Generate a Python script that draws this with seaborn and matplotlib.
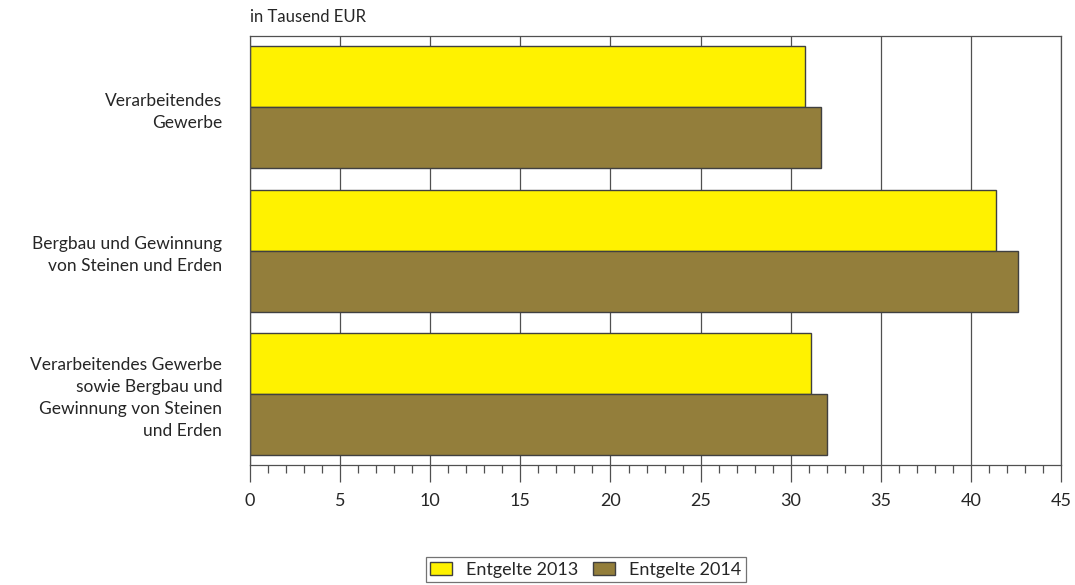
import pandas as pd
import matplotlib.pyplot as plt
import seaborn as sns
from matplotlib.ticker import MultipleLocator

# Daten (in Tausend EUR)
bereiche = [
    'Verarbeitendes\nGewerbe',
    'Bergbau und Gewinnung\nvon Steinen und Erden',
    'Verarbeitendes Gewerbe\nsowie Bergbau und\nGewinnung von Steinen\nund Erden',
]
entgelte_2013 = [30.8, 41.4, 31.1]
entgelte_2014 = [31.7, 42.6, 32.0]
serien = ['Entgelte 2013', 'Entgelte 2014']

df = pd.DataFrame({
    'Bereich': bereiche * 2,
    'Serie': [serien[0]] * 3 + [serien[1]] * 3,
    'Wert': entgelte_2013 + entgelte_2014,
})

sns.set_theme(style="white")
plt.rcParams['font.family'] = ['Lato', 'DejaVu Sans']

fig = plt.figure(figsize=(10.75, 5.85), dpi=100)
ax = fig.add_axes([0.2326, 0.205, 0.9870 - 0.2326, 0.9385 - 0.205])

sns.barplot(
    data=df, x='Wert', y='Bereich', hue='Serie', orient='h',
    palette=['#FFF200', '#937E3B'], saturation=1, width=0.853, gap=0,
    edgecolor='#404040', linewidth=1, ax=ax, legend=True,
)

ax.set_xlim(0, 45)
ax.set_ylim(2.5, -0.5)
ax.xaxis.set_major_locator(MultipleLocator(5))
ax.xaxis.set_minor_locator(MultipleLocator(1))
ax.grid(axis='x', which='major', color='#505050', linewidth=0.9)
ax.set_axisbelow(True)
ax.tick_params(axis='x', which='major', direction='out', length=12, width=0.9,
               color='#505050', labelsize=13, pad=8, bottom=True)
ax.tick_params(axis='x', which='minor', direction='out', length=6, width=0.9,
               color='#505050', bottom=True)
ax.tick_params(axis='y', length=0, labelsize=12.5, pad=20)
for lbl in ax.get_yticklabels():
    lbl.set_horizontalalignment('right')
    lbl.set_multialignment('right')
    lbl.set_linespacing(1.45)
for sp in ax.spines.values():
    sp.set_color('#505050')
    sp.set_linewidth(0.9)
ax.set_xlabel('')
ax.set_ylabel('')

ax.text(0, 1.025, 'in Tausend EUR', transform=ax.transAxes, fontsize=12,
        ha='left', va='bottom')

leg = ax.legend(loc='center', bbox_to_anchor=(0.545, 0.026),
                bbox_transform=fig.transFigure, ncol=2,
                frameon=True, fancybox=False, fontsize=13, handlelength=1.2,
                handleheight=0.7, columnspacing=0.8, handletextpad=0.8,
                borderpad=0.25, borderaxespad=0)
leg.get_frame().set_edgecolor('#505050')
leg.get_frame().set_linewidth(0.9)

fig.savefig('out.png', dpi=100)
